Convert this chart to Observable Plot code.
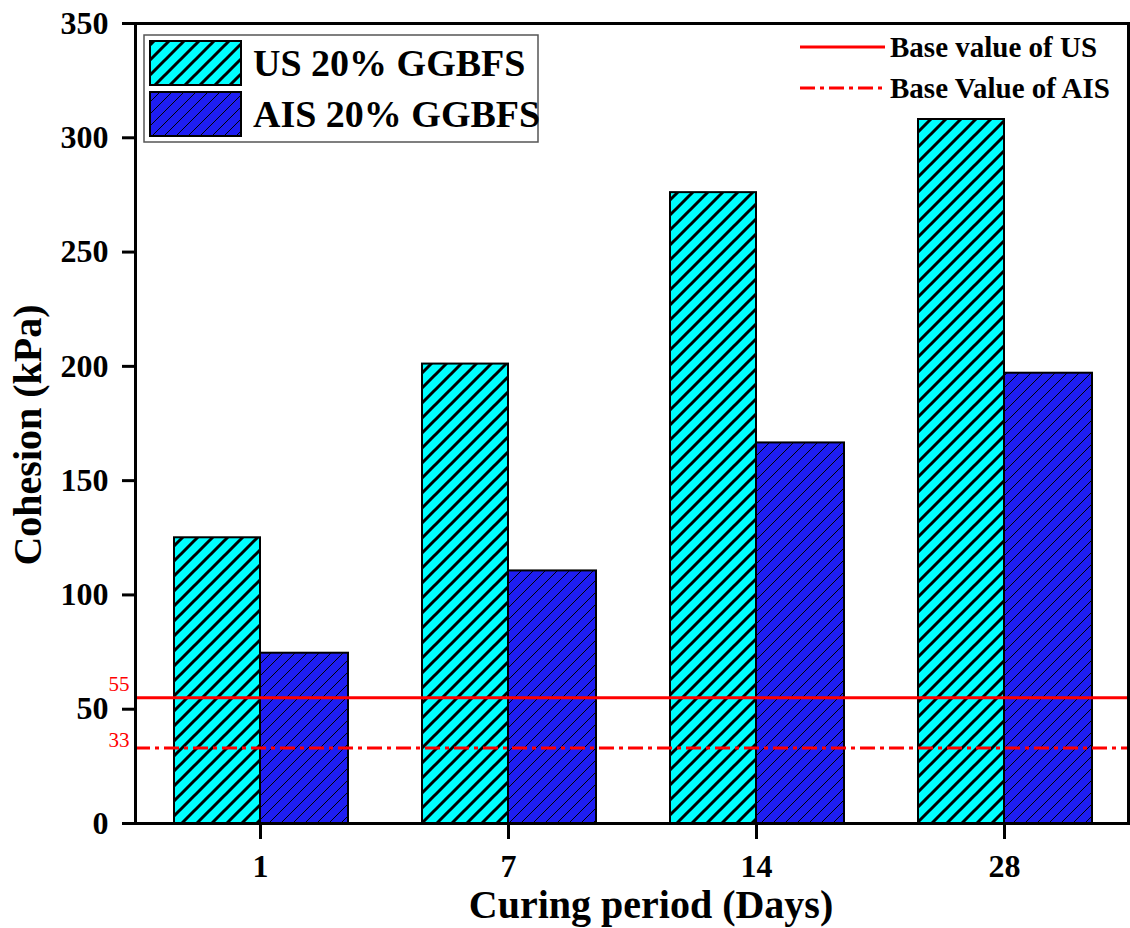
<!DOCTYPE html>
<html>
<head>
<meta charset="utf-8">
<script src="https://cdn.jsdelivr.net/npm/d3@7"></script>
<script src="https://cdn.jsdelivr.net/npm/@observablehq/plot@0.6"></script>
<style>
  html, body { margin: 0; padding: 0; background: #fff; }
  #chart svg [aria-label="y-axis tick"],
  #chart svg [aria-label="x-axis tick"] { stroke-width: 3px; }
</style>
</head>
<body>
<div id="chart"></div>
<script>
// Curing periods (days) and cohesion values (kPa)
const days = ["1", "7", "14", "28"];
const usCohesion = [125, 201, 276, 308];
const aisCohesion = [74.5, 110.5, 166.5, 197];
const seriesNames = ["US 20% GGBFS", "AIS 20% GGBFS"];

// Untreated base values (kPa)
const baseValues = [55, 33];
const baseNames = ["Base value of US", "Base Value of AIS"];

const yTicks = [0, 50, 100, 150, 200, 250, 300, 350];
const yTitle = "Cohesion (kPa)";
const xTitle = "Curing period (Days)";

const usRows = days.map((d, i) => ({day: d, value: usCohesion[i]}));
const aisRows = days.map((d, i) => ({day: d, value: aisCohesion[i]}));

const serif = "'Liberation Serif', 'Times New Roman', serif";

const chart = Plot.plot({
  width: 1130,
  height: 928,
  marginLeft: 135,
  marginRight: 2,
  marginTop: 23,
  marginBottom: 105,
  style: {fontFamily: serif, fontWeight: "bold", fontSize: "32px", color: "#000", background: "#fff"},
  x: {type: "band", domain: days, padding: 0, label: null, tickSize: 16, tickPadding: 15},
  y: {domain: [0, 350], ticks: yTicks, label: null, tickSize: 13, tickPadding: 14},
  marks: [
    Plot.barY(usRows, {x: "day", y: "value", fill: "url(#hatchUS)", stroke: "#000", strokeWidth: 2, insetLeft: 38, insetRight: 124}),
    Plot.barY(aisRows, {x: "day", y: "value", fill: "url(#hatchAIS)", stroke: "#000", strokeWidth: 2, insetLeft: 124, insetRight: 36}),
    Plot.ruleY([baseValues[0]], {stroke: "#ff0000", strokeWidth: 3}),
    Plot.ruleY([baseValues[1]], {stroke: "#ff0000", strokeWidth: 3, strokeDasharray: "15,5,4,5"}),
    Plot.text([baseValues[0]], {y: d => d, text: d => String(d), frameAnchor: "left", textAnchor: "end", dx: -6, dy: -14, fill: "#ff0000", fontSize: 21, fontWeight: "normal"}),
    Plot.text([baseValues[1]], {y: d => d, text: d => String(d), frameAnchor: "left", textAnchor: "end", dx: -6, dy: -8, fill: "#ff0000", fontSize: 21, fontWeight: "normal"}),
    Plot.frame({stroke: "#000", strokeWidth: 3})
  ]
});

const svg = d3.select(chart);

// Hatch patterns for the two series
const defs = svg.insert("defs", ":first-child");
function hatch(id, bg, spacing, lineWidth) {
  const p = defs.append("pattern")
    .attr("id", id)
    .attr("patternUnits", "userSpaceOnUse")
    .attr("width", spacing)
    .attr("height", spacing);
  p.append("rect").attr("width", spacing).attr("height", spacing).attr("fill", bg);
  const s = spacing;
  p.append("path")
    .attr("d", `M-2,2 L2,-2 M0,${s} L${s},0 M${s - 2},${s + 2} L${s + 2},${s - 2}`)
    .attr("stroke", "#000")
    .attr("stroke-width", lineWidth)
    .attr("fill", "none");
}
hatch("hatchUS", "#00ffff", 15, 3);
hatch("hatchAIS", "#1e1ef2", 12, 1);

// Axis titles
const titles = svg.append("g").attr("font-family", serif).attr("font-weight", "bold")
  .attr("font-size", 40).attr("fill", "#000").attr("text-anchor", "middle");
titles.append("text").attr("transform", "translate(41,435) rotate(-90)").text(yTitle);
titles.append("text").attr("x", 651).attr("y", 918).text(xTitle);

// Series legend (top left)
const leg = svg.append("g").attr("font-family", serif).attr("font-weight", "bold").attr("text-anchor", "start");
leg.append("rect").attr("x", 144).attr("y", 35).attr("width", 394).attr("height", 107)
  .attr("fill", "#fff").attr("stroke", "#555").attr("stroke-width", 1.5);
const fills = ["url(#hatchUS)", "url(#hatchAIS)"];
seriesNames.forEach((name, i) => {
  const y0 = 41 + i * 51;
  leg.append("rect").attr("x", 150).attr("y", y0).attr("width", 91).attr("height", 44)
    .attr("fill", fills[i]).attr("stroke", "#000").attr("stroke-width", 2);
  leg.append("text").attr("x", 253).attr("y", y0 + 35).attr("font-size", 38)
    .attr("fill", "#000").text(name);
});

// Base value legend (top right)
const leg2 = svg.append("g").attr("font-family", serif).attr("font-weight", "bold").attr("text-anchor", "start");
baseNames.forEach((name, i) => {
  const y0 = 47 + i * 41;
  leg2.append("line").attr("x1", 800).attr("x2", 885).attr("y1", y0).attr("y2", y0)
    .attr("stroke", "#ff0000").attr("stroke-width", 3)
    .attr("stroke-dasharray", i === 1 ? "15,5,4,5" : null);
  leg2.append("text").attr("x", 890).attr("y", y0 + 10).attr("font-size", 29)
    .attr("fill", "#000").text(name);
});

document.getElementById("chart").appendChild(chart);
</script>
</body>
</html>
